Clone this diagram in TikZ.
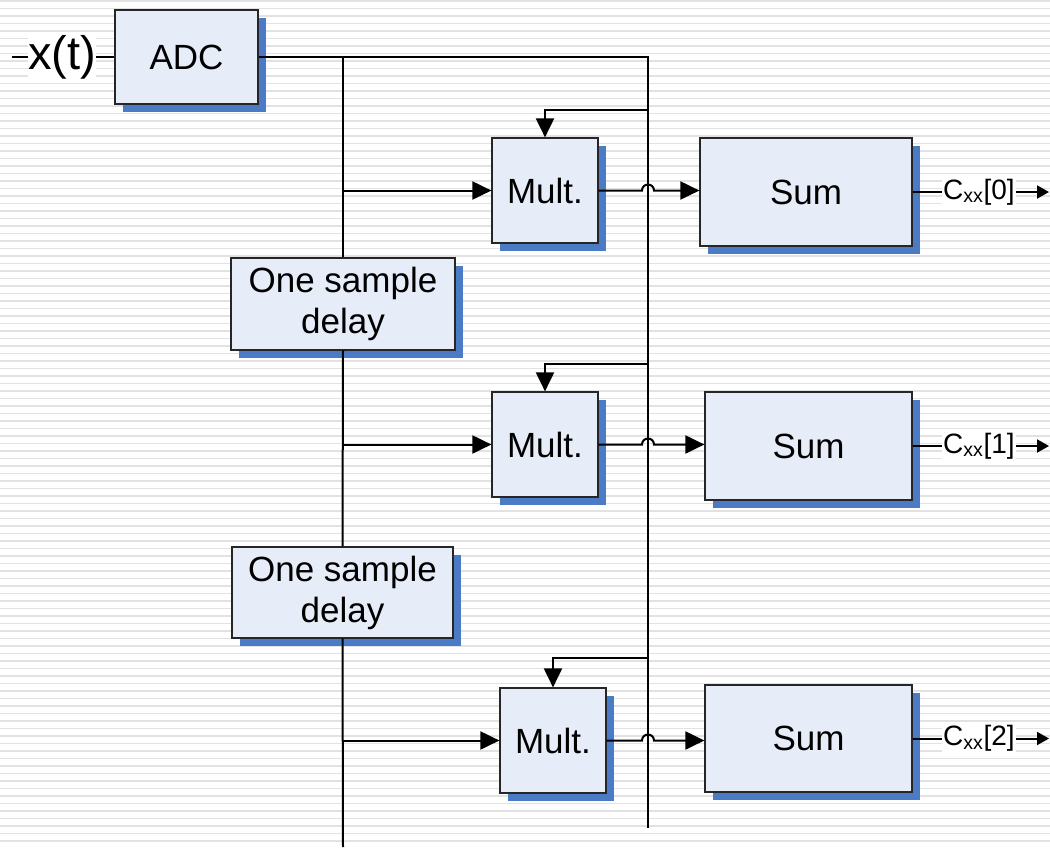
\documentclass[tikz,border=0pt]{standalone}
\usepackage{fontspec}
\setmainfont{Liberation Sans}
\usepackage{tikz}
\usetikzlibrary{arrows.meta,shadows,calc}
\definecolor{boxfill}{RGB}{230,236,248}
\definecolor{boxshadow}{RGB}{74,123,196}
\definecolor{stripegray}{RGB}{226,226,226}

\begin{document}
\begin{tikzpicture}[x=1pt,y=-1pt,
  block/.style={draw=black!85,line width=1.2pt,fill=boxfill,align=center,
    font=\fontsize{35}{41}\selectfont,
    drop shadow={shadow xshift=8pt,shadow yshift=-8pt,fill=boxshadow,opacity=1}},
  wire/.style={line width=2pt},
  feed/.style={wire,-{Triangle[length=19pt,width=18pt]}},
  outarrow/.style={wire,-{Triangle[length=12pt,width=13pt]}},
  lbl/.style={fill=white,inner sep=1pt}]
\useasboundingbox (0,0) rectangle (1050,847);
\fill[white] (0,0) rectangle (1050,847);
% background stripes
\foreach \y in {1,8.5,...,847}
  \draw[stripegray,line width=1.7pt] (0,\y) -- (1050,\y);

% blocks
\node[block,minimum width=143pt,minimum height=94pt] (adc) at (186.5,57) {ADC};
\node[block,minimum width=224pt,minimum height=92pt] (d1) at (343,304) {One sample\\delay};
\node[block,minimum width=221pt,minimum height=91pt] (d2) at (342.5,592.5) {One sample\\delay};
\node[block,minimum width=106pt,minimum height=105pt] (m1) at (545,190.5) {Mult.};
\node[block,minimum width=106pt,minimum height=105pt] (m2) at (545,444.5) {Mult.};
\node[block,minimum width=106pt,minimum height=105pt] (m3) at (553,740.5) {Mult.};
\node[block,minimum width=212pt,minimum height=108pt] (s1) at (806,192) {Sum};
\node[block,minimum width=207pt,minimum height=108pt] (s2) at (808.5,446) {Sum};
\node[block,minimum width=207pt,minimum height=107pt] (s3) at (808.5,738.5) {Sum};

% input
\node[lbl,font=\fontsize{47}{50}\selectfont,inner sep=0pt] (xt) at (62,57) {x(t)};
\coordinate (xin) at (12,57);
\draw[wire] (xin) -- (xt.west);
\draw[wire] (xt.east) -- (adc.west);

% buses
\coordinate (rtop) at (648,57);
\coordinate (rbot) at (648,828);
\coordinate (lbot) at (343,847);
\draw[wire] (adc.east) -- (rtop) -- (rbot);
\draw[wire] (d1.north |- adc.east) -- (d1.north);
\draw[wire] (d1.south) -- (d2.north);
\draw[wire] (d2.south) -- (lbot);

% taps into the multipliers
\draw[feed] (d1.north |- m1) -- (m1.west);
\draw[feed] (d1.south |- m2) -- (m2.west);
\draw[feed] (d2.south |- m3) -- (m3.west);

\coordinate (t1) at (648,110);
\coordinate (t2) at (648,364);
\coordinate (t3) at (648,658);
\draw[feed] (t1) -| (m1.north);
\draw[feed] (t2) -| (m2.north);
\draw[feed] (t3) -| (m3.north);

% multiplier to sum, hopping over the bus
\foreach \m/\s in {m1/s1,m2/s2,m3/s3}{
  \draw[feed] (\m.east) -- ($(rtop |- \m.east)+(-6pt,0)$)
    arc[start angle=180,end angle=0,radius=6pt] -- (\s.west |- \m.east);
}

% outputs
\node[lbl,font=\fontsize{28}{30}\selectfont,anchor=west] (o1) at (942,192) {C\textsubscript{xx}[0]};
\node[lbl,font=\fontsize{28}{30}\selectfont,anchor=west] (o2) at (942,446) {C\textsubscript{xx}[1]};
\node[lbl,font=\fontsize{28}{30}\selectfont,anchor=west] (o3) at (942,738.5) {C\textsubscript{xx}[2]};
\coordinate (e1) at (1049,192);
\coordinate (e2) at (1049,446);
\coordinate (e3) at (1049,738.5);
\draw[wire] (s1.east) -- (o1.west);
\draw[wire] (s2.east) -- (o2.west);
\draw[wire] (s3.east) -- (o3.west);
\draw[outarrow] (o1.east) -- (e1);
\draw[outarrow] (o2.east) -- (e2);
\draw[outarrow] (o3.east) -- (e3);
\end{tikzpicture}
\end{document}
